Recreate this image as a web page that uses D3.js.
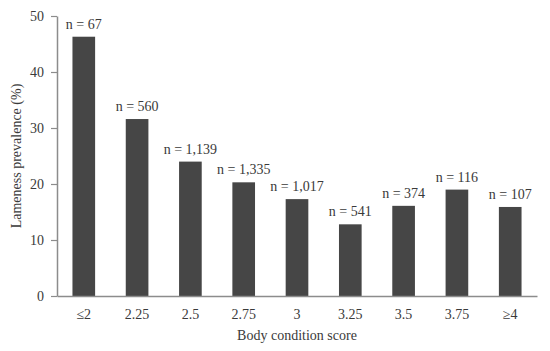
<!DOCTYPE html>
<html>
<head>
<meta charset="utf-8">
<script src="https://cdn.jsdelivr.net/npm/d3@7"></script>
<style>
  body { margin: 0; background: #fff; }
  text { font-family: "Liberation Serif", "Times New Roman", serif; fill: #3a3a3a; }
</style>
</head>
<body>
<div id="chart"></div>
<script>
// data
var scores = ["\u22642", "2.25", "2.5", "2.75", "3", "3.25", "3.5", "3.75", "\u22654"];
var prevalence = [46.3, 31.6, 24.0, 20.3, 17.3, 12.8, 16.1, 19.0, 15.9];
var counts = ["67", "560", "1,139", "1,335", "1,017", "541", "374", "116", "107"];
var yTicks = [0, 10, 20, 30, 40, 50];

var margin = { top: 16, right: 13, bottom: 55, left: 57 },
  width = 550 - margin.left - margin.right,
  height = 351 - margin.top - margin.bottom;

var data = scores.map(function (s, i) {
  return { score: s, value: prevalence[i], n: counts[i] };
});

var svg = d3.select("#chart")
  .append("svg")
  .attr("width", 550)
  .attr("height", 351)
  .append("g")
  .attr("transform", "translate(" + margin.left + "," + margin.top + ")");

var x = d3.scaleBand().domain(scores).range([0, width]).paddingInner(0.575).paddingOuter(0.29);
var y = d3.scaleLinear().domain([0, 50]).range([height, 0]);

// bars
svg.append("g")
  .selectAll("rect")
  .data(data)
  .enter().append("rect")
  .attr("x", d => x(d.score))
  .attr("y", d => y(d.value))
  .attr("width", x.bandwidth())
  .attr("height", d => height - y(d.value))
  .attr("fill", "#464646");

// n labels
svg.append("g")
  .selectAll("text")
  .data(data)
  .enter().append("text")
  .attr("x", d => x(d.score) + x.bandwidth() / 2)
  .attr("y", d => y(d.value) - 8)
  .attr("text-anchor", "middle")
  .style("font-size", "14px")
  .text(d => "n = " + d.n);

// Y axis
var yAxis = svg.append("g")
  .call(d3.axisLeft(y).tickValues(yTicks).tickSize(6).tickSizeOuter(0).tickPadding(7));
yAxis.selectAll("text").style("font-size", "14px");

// X axis
var xAxis = svg.append("g")
  .attr("transform", "translate(0," + height + ")")
  .call(d3.axisBottom(x).tickSize(0).tickPadding(13));
xAxis.selectAll("text").style("font-size", "14px");

svg.selectAll(".domain").attr("stroke", "#8c8c8c").attr("stroke-width", 1.5);
svg.selectAll(".tick line").attr("stroke", "#8c8c8c").attr("stroke-width", 1.2);

// axis titles
svg.append("text")
  .attr("x", width / 2)
  .attr("y", height + 44)
  .attr("text-anchor", "middle")
  .style("font-size", "14px")
  .text("Body condition score");

svg.append("text")
  .attr("transform", "rotate(-90)")
  .attr("x", -height / 2)
  .attr("y", -36)
  .attr("text-anchor", "middle")
  .style("font-size", "14px")
  .text("Lameness prevalence (%)");
</script>
</body>
</html>
